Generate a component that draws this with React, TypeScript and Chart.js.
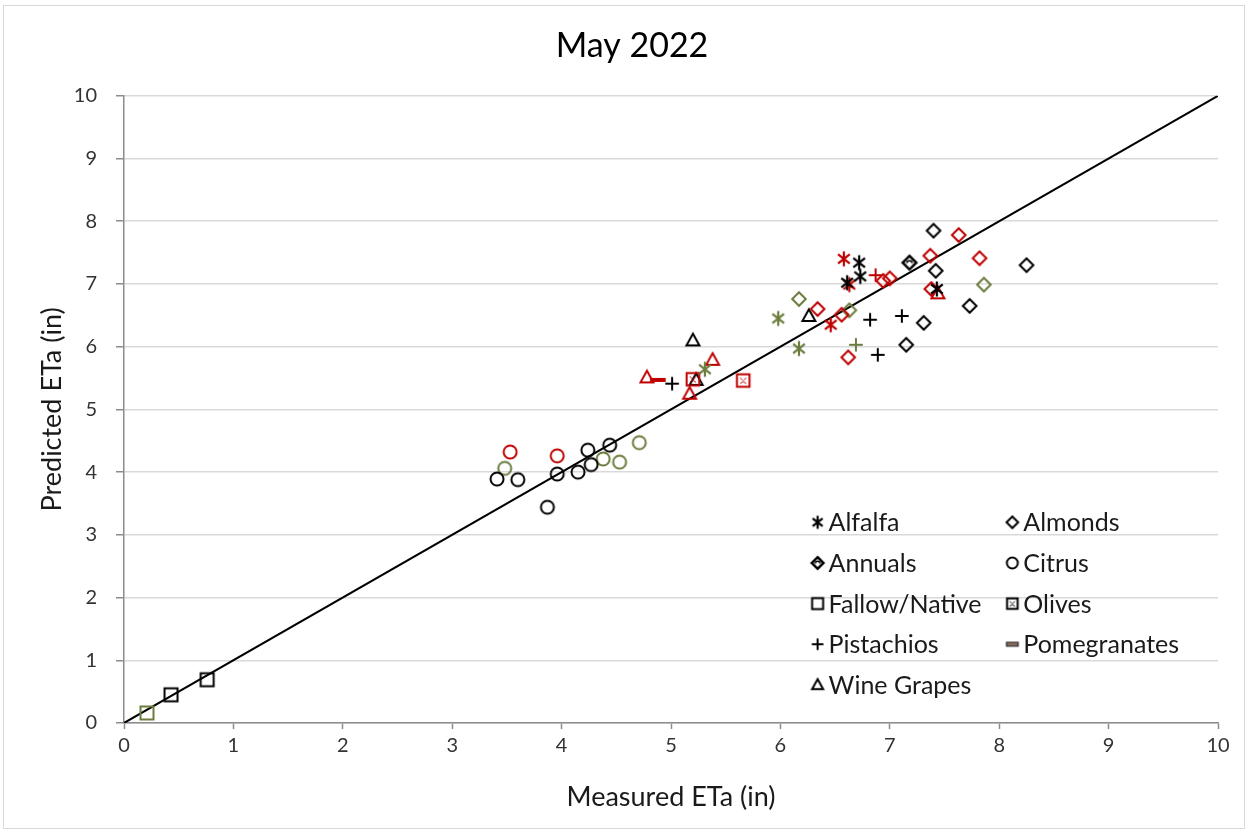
import React, { useEffect, useRef } from "react";
import { Chart, registerables } from "chart.js";

Chart.register(...registerables);

const FONT = "Lato, 'Open Sans', sans-serif";
const BLACK = "#000000";
const RED = "#C00000";
const OLIVE = "#6B7D3E";

const titleText = "May 2022";
const xTitle = "Measured ETa (in)";
const yTitle = "Predicted ETa (in)";
const axisTicks = [0, 1, 2, 3, 4, 5, 6, 7, 8, 9, 10];
const oneToOne: [number, number][] = [[0, 0], [10, 10]];

const alfalfaBlack: [number, number][] = [[6.72, 7.34], [6.73, 7.12], [6.61, 7.02], [7.43, 6.92]];
const alfalfaRed: [number, number][] = [[6.58, 7.4], [6.63, 6.99], [6.46, 6.35]];
const alfalfaOlive: [number, number][] = [[5.98, 6.45], [6.17, 5.97], [5.31, 5.64]];
const almondsBlack: [number, number][] = [[7.4, 7.85], [8.25, 7.3], [7.42, 7.21], [7.31, 6.38], [7.73, 6.65], [7.15, 6.03]];
const almondsRed: [number, number][] = [[7.63, 7.78], [7.37, 7.45], [7.82, 7.41], [6.94, 7.05], [7.0, 7.09], [7.38, 6.92], [6.34, 6.6], [6.56, 6.51], [6.62, 5.83]];
const almondsOlive: [number, number][] = [[7.86, 6.99], [6.17, 6.76], [6.63, 6.58]];
const annualsBlack: [number, number][] = [[7.18, 7.34]];
const citrusBlack: [number, number][] = [[3.41, 3.89], [3.6, 3.88], [3.96, 3.97], [3.87, 3.44], [4.15, 4.0], [4.24, 4.35], [4.27, 4.12], [4.44, 4.43]];
const citrusRed: [number, number][] = [[3.53, 4.32], [3.96, 4.26]];
const citrusOlive: [number, number][] = [[3.48, 4.06], [4.38, 4.21], [4.53, 4.16], [4.71, 4.47]];
const fallowBlack: [number, number][] = [[0.43, 0.45], [0.76, 0.69]];
const fallowOlive: [number, number][] = [[0.21, 0.16]];
const olivesRed: [number, number][] = [[5.2, 5.48], [5.66, 5.46]];
const pistachiosBlack: [number, number][] = [[6.82, 6.43], [7.11, 6.49], [6.89, 5.87], [5.01, 5.41]];
const pistachiosRed: [number, number][] = [[6.87, 7.14]];
const pistachiosOlive: [number, number][] = [[6.69, 6.03]];
const pomegranatesRed: [number, number][] = [[4.88, 5.47]];
const wineBlack: [number, number][] = [[6.26, 6.49], [5.2, 6.1], [5.23, 5.47]];
const wineRed: [number, number][] = [[7.44, 6.85], [5.38, 5.79], [4.78, 5.51], [5.17, 5.25]];

const legendLabels = ["Alfalfa", "Almonds", "Annuals", "Citrus", "Fallow/Native", "Olives", "Pistachios", "Pomegranates", "Wine Grapes"];
const legendShapes = ["asterisk", "diamond", "annuals", "circle", "square", "olives", "plus", "dash", "triangle"];

type Shape = string;

function makeMarker(shape: Shape, color: string, legend = false): HTMLCanvasElement {
  const s = 26;
  const c = document.createElement("canvas");
  c.width = s;
  c.height = s;
  const ctx = c.getContext("2d")!;
  ctx.translate(s / 2, s / 2);
  ctx.strokeStyle = color;
  ctx.fillStyle = color;
  ctx.lineWidth = 2;
  const r = legend ? 5.8 : 6.8;
  ctx.beginPath();
  switch (shape) {
    case "asterisk": {
      const a = r * 1.1;
      ctx.lineWidth = 2.2;
      ctx.moveTo(0, -a);
      ctx.lineTo(0, a);
      ctx.moveTo(-a * 0.78, -a * 0.62);
      ctx.lineTo(a * 0.78, a * 0.62);
      ctx.moveTo(-a * 0.78, a * 0.62);
      ctx.lineTo(a * 0.78, -a * 0.62);
      ctx.stroke();
      break;
    }
    case "diamond":
      ctx.moveTo(0, -r);
      ctx.lineTo(r, 0);
      ctx.lineTo(0, r);
      ctx.lineTo(-r, 0);
      ctx.closePath();
      ctx.stroke();
      break;
    case "annuals":
      ctx.lineWidth = 2.5;
      ctx.moveTo(0, -r);
      ctx.lineTo(r, 0);
      ctx.lineTo(0, r);
      ctx.lineTo(-r, 0);
      ctx.closePath();
      ctx.stroke();
      ctx.beginPath();
      ctx.lineWidth = 1.5;
      ctx.arc(0, 0.5, r * 0.38, Math.PI, 2 * Math.PI);
      ctx.stroke();
      break;
    case "circle":
      ctx.arc(0, 0, r - 0.3, 0, Math.PI * 2);
      ctx.stroke();
      break;
    case "square":
      ctx.rect(-r + 0.3, -r + 0.3, 2 * r - 0.6, 2 * r - 0.6);
      ctx.stroke();
      break;
    case "olives": {
      const h = r - 0.5;
      ctx.rect(-h, -h, 2 * h, 2 * h);
      ctx.stroke();
      ctx.beginPath();
      ctx.lineWidth = 1;
      ctx.moveTo(-h * 0.5, -h * 0.45);
      ctx.lineTo(-h * 0.1, -h * 0.05);
      ctx.moveTo(h * 0.5, -h * 0.45);
      ctx.lineTo(h * 0.1, -h * 0.05);
      ctx.moveTo(-h * 0.5, h * 0.5);
      ctx.lineTo(0, h * 0.15);
      ctx.lineTo(h * 0.5, h * 0.5);
      ctx.stroke();
      break;
    }
    case "plus":
      ctx.moveTo(-r, 0);
      ctx.lineTo(r, 0);
      ctx.moveTo(0, -r);
      ctx.lineTo(0, r);
      ctx.stroke();
      break;
    case "dash":
      if (legend) {
        ctx.fillStyle = "#8a6a5e";
        ctx.strokeStyle = "#222";
        ctx.lineWidth = 1.2;
        ctx.rect(-r, -2, 2 * r, 4);
        ctx.fill();
        ctx.stroke();
      } else {
        ctx.fillRect(-r - 1, -2, 2 * r + 2, 4);
      }
      break;
    case "triangle":
      ctx.moveTo(0, -r);
      ctx.lineTo(r * 0.95, r * 0.72);
      ctx.lineTo(-r * 0.95, r * 0.72);
      ctx.closePath();
      ctx.stroke();
      break;
  }
  return c;
}

function series(label: string, shape: Shape, color: string, pts: [number, number][]) {
  return {
    type: "scatter" as const,
    label,
    data: pts.map(([x, y]) => ({ x, y })),
    pointStyle: makeMarker(shape, color),
    pointRadius: 7,
    showLine: false,
    yAxisID: "y",
  };
}

const legendPlugin = {
  id: "insideLegend",
  afterDraw(chart: any) {
    const { ctx, scales } = chart;
    const xs = scales.x;
    const ys = scales.y;
    const col0 = xs.getPixelForValue(6.34);
    const col1 = xs.getPixelForValue(8.12);
    const row0 = ys.getPixelForValue(3.2);
    const rowStep = ys.getPixelForValue(0) - ys.getPixelForValue(0.648);
    ctx.save();
    ctx.font = `25px ${FONT}`;
    ctx.fillStyle = "#1a1a1a";
    ctx.textBaseline = "middle";
    legendLabels.forEach((lab, i) => {
      const cx = i % 2 === 0 ? col0 : col1;
      const cy = row0 + Math.floor(i / 2) * rowStep;
      const m = makeMarker(legendShapes[i], BLACK, true);
      ctx.drawImage(m, cx - m.width / 2, cy - m.height / 2);
      ctx.fillText(lab, cx + 11, cy + 1);
    });
    ctx.restore();
  },
};

export default function App() {
  const ref = useRef<HTMLCanvasElement | null>(null);
  useEffect(() => {
    if (!ref.current) return;
    const datasets: any[] = [
      series("Alfalfa", "asterisk", BLACK, alfalfaBlack),
      series("Alfalfa", "asterisk", RED, alfalfaRed),
      series("Alfalfa", "asterisk", OLIVE, alfalfaOlive),
      series("Almonds", "diamond", BLACK, almondsBlack),
      series("Almonds", "diamond", RED, almondsRed),
      series("Almonds", "diamond", OLIVE, almondsOlive),
      series("Annuals", "annuals", BLACK, annualsBlack),
      series("Citrus", "circle", BLACK, citrusBlack),
      series("Citrus", "circle", RED, citrusRed),
      series("Citrus", "circle", OLIVE, citrusOlive),
      series("Fallow/Native", "square", BLACK, fallowBlack),
      series("Fallow/Native", "square", OLIVE, fallowOlive),
      series("Olives", "olives", RED, olivesRed),
      series("Pistachios", "plus", BLACK, pistachiosBlack),
      series("Pistachios", "plus", RED, pistachiosRed),
      series("Pistachios", "plus", OLIVE, pistachiosOlive),
      series("Pomegranates", "dash", RED, pomegranatesRed),
      series("Wine Grapes", "triangle", BLACK, wineBlack),
      series("Wine Grapes", "triangle", RED, wineRed),
      {
        type: "scatter",
        label: "1:1",
        data: oneToOne.map(([x, y]) => ({ x, y })),
        showLine: true,
        borderColor: "#000",
        borderWidth: 2,
        pointRadius: 0,
        yAxisID: "y",
      },
    ];
    const chart = new Chart(ref.current, {
      type: "scatter",
      data: { datasets },
      plugins: [legendPlugin],
      options: {
        animation: false,
        responsive: false,
        layout: { padding: { left: 24, right: 10, top: 0, bottom: 10 } },
        plugins: {
          legend: { display: false },
          tooltip: { enabled: false },
          title: {
            display: true,
            text: titleText,
            color: "#000",
            font: { family: FONT, size: 34, weight: "normal" },
            padding: { top: 26, bottom: 29 },
          },
        },
        scales: {
          x: {
            type: "linear",
            min: 0,
            max: 10,
            afterBuildTicks: (s: any) => {
              s.ticks = axisTicks.map((v) => ({ value: v }));
            },
            afterFit: (s: any) => {
              s.height = 102;
            },
            ticks: { color: "#333333", font: { family: FONT, size: 20 }, padding: 5, maxRotation: 0 },
            grid: { drawOnChartArea: false, drawTicks: true, tickLength: 6, tickColor: "#8c8c8c", tickWidth: 1.5 },
            border: { color: "#8c8c8c", width: 1.5 },
            title: { display: true, text: xTitle, color: "#1a1a1a", font: { family: FONT, size: 27 }, padding: { top: 0, bottom: 12 } },
          },
          y: {
            type: "linear",
            position: "left",
            min: 0,
            max: 10,
            afterBuildTicks: (s: any) => {
              s.ticks = axisTicks.map((v) => ({ value: v }));
            },
            afterFit: (s: any) => {
              s.width = 100;
            },
            ticks: { color: "#333333", font: { family: FONT, size: 20 }, padding: 19 },
            grid: { color: "#d9d9d9", lineWidth: 1.5, drawTicks: true, tickLength: 8, tickColor: "#8c8c8c", tickWidth: 1.5 },
            border: { color: "#8c8c8c", width: 1.5 },
            title: { display: true, text: yTitle, color: "#1a1a1a", font: { family: FONT, size: 27 }, padding: { top: 12, bottom: 0 } },
          },
          pad: {
            type: "linear",
            position: "right",
            display: true,
            grid: { display: false, drawTicks: false },
            border: { display: false },
            ticks: { display: false },
            afterFit: (s: any) => {
              s.width = 22;
            },
          },
        },
      } as any,
    });
    return () => chart.destroy();
  }, []);

  return (
    <div style={{ position: "fixed", left: 0, top: 0, width: 1250, height: 835, background: "#fff" }}>
      <div
        style={{
          position: "absolute",
          left: 3,
          top: 5,
          width: 1242,
          height: 824,
          border: "1px solid #d9d9d9",
          boxSizing: "border-box",
        }}
      />
      <canvas ref={ref} width={1250} height={835} style={{ position: "absolute", left: 0, top: 0, width: 1250, height: 835 }} />
    </div>
  );
}
